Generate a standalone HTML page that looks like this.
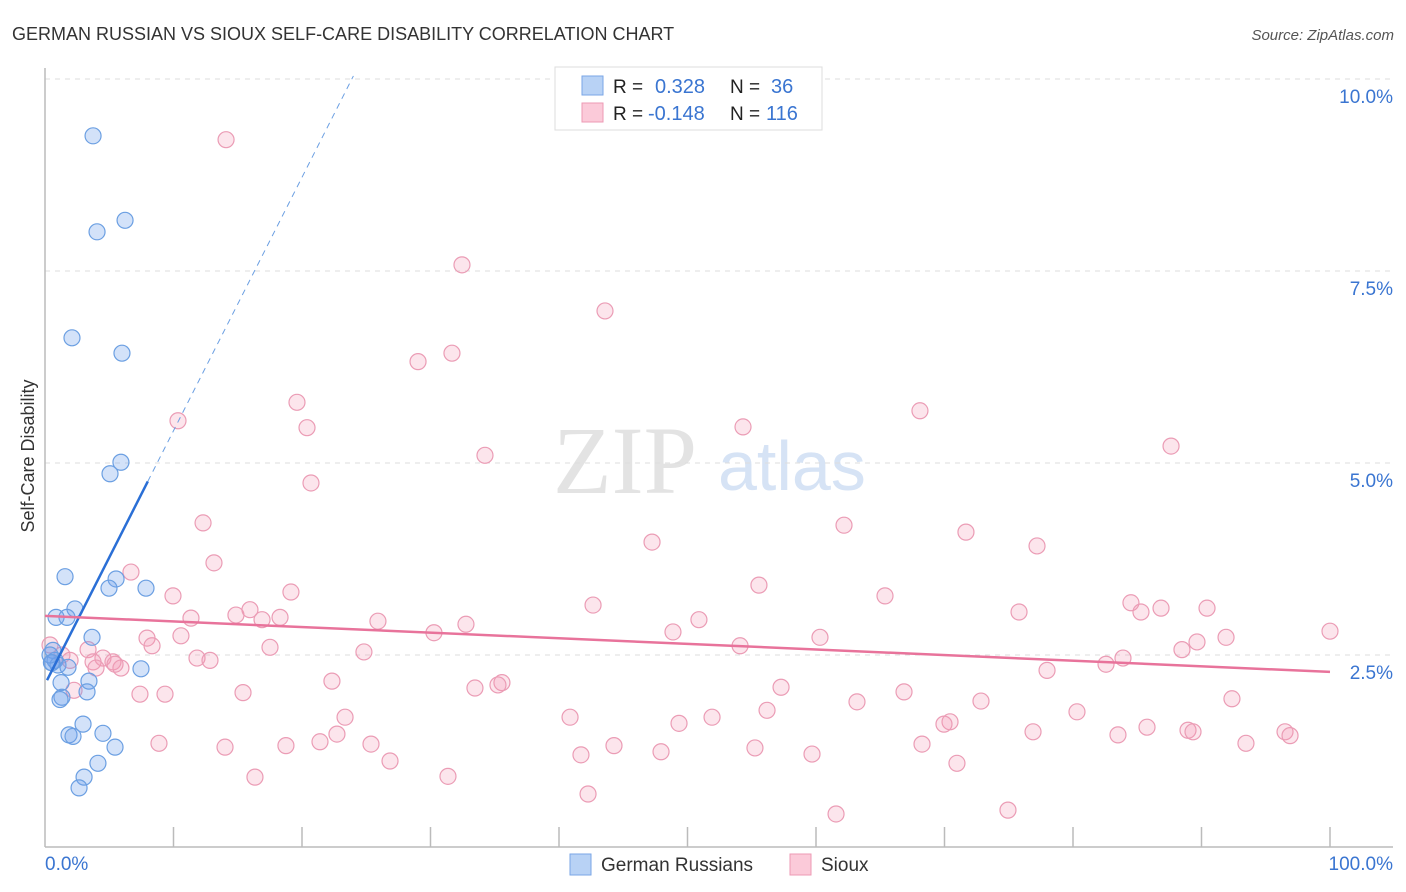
<!DOCTYPE html>
<html><head><meta charset="utf-8"><style>
body{margin:0;background:#fff;font-family:"Liberation Sans",sans-serif}
svg{display:block}
</style></head><body>
<svg id="c" width="1406" height="892" xmlns="http://www.w3.org/2000/svg">
<text x="12" y="40" font-size="18" fill="#333">GERMAN RUSSIAN VS SIOUX SELF-CARE DISABILITY CORRELATION CHART</text>
<text x="1394" y="40" font-size="15" fill="#555" font-style="italic" text-anchor="end">Source: ZipAtlas.com</text>
<g>
<text x="553" y="493" font-size="96" font-family="Liberation Serif,serif" fill="#e3e3e3">ZIP</text>
<text x="718" y="490" font-size="70" fill="#d6e3f5">atlas</text>
</g>
<g id="grid"></g>
<g id="axes"></g>
<g id="pts"></g>
<g id="trend"></g>
<g>
<rect x="555" y="67" width="267" height="63" fill="#fff" stroke="#ddd"/>
<rect x="582" y="76" width="21" height="19" fill="#b8d2f5" stroke="#7aa6e6"/>
<rect x="582" y="103" width="21" height="19" fill="#fbcad9" stroke="#ec9ab4"/>
<text x="613" y="93" font-size="19" fill="#222">R = </text><text x="655" y="93" font-size="20" fill="#3a75d1">0.328</text>
<text x="730" y="93" font-size="19" fill="#222">N = </text><text x="771" y="93" font-size="20" fill="#3a75d1">36</text>
<text x="613" y="120" font-size="19" fill="#222">R = </text><text x="648" y="120" font-size="20" fill="#3a75d1">-0.148</text>
<text x="730" y="120" font-size="19" fill="#222">N = </text><text x="766" y="120" font-size="20" fill="#3a75d1">116</text>
</g>
<g>
<rect x="570" y="854" width="21" height="21" fill="#b8d2f5" stroke="#7aa6e6"/>
<text x="601" y="871" font-size="19" fill="#333">German Russians</text>
<rect x="790" y="854" width="21" height="21" fill="#fbcad9" stroke="#ec9ab4"/>
<text x="821" y="871" font-size="19" fill="#333">Sioux</text>
</g>
</svg>
<script>
const blueX=[3.74,4.05,6.23,2.10,5.99,5.91,5.06,1.56,5.53,4.98,7.86,2.33,0.86,1.71,3.66,0.62,0.78,1.01,1.79,7.47,3.42,1.25,1.32,0.5,3.27,2.96,1.87,2.18,4.51,5.45,4.12,3.04,2.65,0.39,1.17,0.54];
const blueY=[9.26,8.01,8.16,6.63,6.43,5.01,4.86,3.52,3.49,3.37,3.37,3.10,2.99,2.99,2.73,2.56,2.43,2.37,2.34,2.32,2.16,2.14,1.95,2.40,2.02,1.60,1.46,1.44,1.48,1.30,1.09,0.91,0.77,2.50,1.92,2.40];
const pinkX=[14.09,32.45,43.58,29.03,31.67,19.61,20.39,10.35,34.24,54.32,68.09,87.63,20.70,12.30,13.15,47.24,62.18,71.67,77.20,6.69,9.96,19.14,55.56,42.65,84.51,86.85,90.43,75.80,85.29,11.36,14.86,15.95,16.89,18.29,25.91,32.76,50.89,65.37,7.94,10.58,30.27,48.87,60.31,91.91,100.0,8.33,17.51,54.09,89.65,88.48,24.82,3.35,4.51,5.29,3.74,5.91,11.83,12.84,83.89,82.57,77.98,22.33,33.46,35.56,35.25,57.28,66.85,7.39,9.34,15.41,63.19,72.84,92.37,56.19,23.35,40.86,51.91,80.31,49.34,70.43,69.96,76.89,83.50,85.76,88.95,89.34,96.50,96.89,8.87,14.01,18.75,21.40,22.72,25.37,44.28,68.25,93.46,41.71,47.94,55.25,59.69,26.85,70.97,16.34,31.36,42.26,61.56,74.94,2.26,0.39,1.32,1.95,5.45,3.97];
const pinkY=[9.21,7.58,6.98,6.32,6.43,5.79,5.46,5.55,5.10,5.47,5.68,5.22,4.74,4.22,3.70,3.97,4.19,4.10,3.92,3.58,3.27,3.32,3.41,3.15,3.18,3.11,3.11,3.06,3.06,2.98,3.02,3.09,2.96,2.99,2.94,2.90,2.96,3.27,2.72,2.75,2.79,2.80,2.73,2.73,2.81,2.62,2.60,2.62,2.67,2.57,2.54,2.57,2.46,2.41,2.41,2.33,2.46,2.43,2.46,2.38,2.30,2.16,2.07,2.14,2.11,2.08,2.02,1.99,1.99,2.01,1.89,1.90,1.93,1.78,1.69,1.69,1.69,1.76,1.61,1.63,1.60,1.50,1.46,1.56,1.52,1.50,1.50,1.45,1.35,1.30,1.32,1.37,1.47,1.34,1.32,1.34,1.35,1.20,1.24,1.29,1.21,1.12,1.09,0.91,0.92,0.69,0.43,0.48,2.04,2.63,2.50,2.43,2.38,2.33];
const blueTrend=[2.12,0.33];
const pinkTrend=[3.01,-0.0073];
const yTicks=[2.5,5.0,7.5,10.0];
const yTickLabels=["2.5%","5.0%","7.5%","10.0%"];
const xTickVals=[10,20,30,40,50,60,70,80,90,100];
const NS="http://www.w3.org/2000/svg";
const X=v=>45+v*12.85, Y=v=>847-v*76.8;
function mk(tag,attrs,parent){const e=document.createElementNS(NS,tag);for(const k in attrs)e.setAttribute(k,attrs[k]);parent.appendChild(e);return e;}
const grid=document.getElementById('grid'),axes=document.getElementById('axes'),pts=document.getElementById('pts'),tr=document.getElementById('trend');
yTicks.forEach((t,i)=>{
 const l=mk('line',{x1:45,x2:1393,y1:Y(t),y2:Y(t),stroke:'#ddd','stroke-dasharray':'5,5'},grid);
 
 
 const tx=mk('text',{x:1393,y:Y(t)+24,'font-size':19,fill:'#3a75d1','text-anchor':'end'},axes);
 tx.textContent=yTickLabels[i];
 
 
});
const ya=mk('line',{x1:45,x2:45,y1:68,y2:847,stroke:'#bbb','stroke-width':1.5},axes);


const xa=mk('line',{x1:45,x2:1393,y1:847,y2:847,stroke:'#bbb','stroke-width':1.5},axes);


xTickVals.forEach(v=>{
 const t=mk('line',{x1:X(v),x2:X(v),y1:827,y2:847,stroke:'#bbb','stroke-width':1.5},axes);
 
 
});
const x0=mk('text',{x:45,y:870,'font-size':19,fill:'#3a75d1'},axes);x0.textContent='0.0%';


const x1=mk('text',{x:1393,y:870,'font-size':19,fill:'#3a75d1','text-anchor':'end'},axes);x1.textContent='100.0%';


const yt=mk('text',{x:34,y:456,'font-size':18,fill:'#333','text-anchor':'middle',transform:'rotate(-90 34 456)'},axes);yt.textContent='Self-Care Disability';


pinkX.forEach((v,i)=>{
 const c=mk('circle',{cx:X(v),cy:Y(pinkY[i]),r:8,fill:'rgba(245,150,180,0.25)',stroke:'#eb9cb5','stroke-width':1.2},pts);
 
 
});
blueX.forEach((v,i)=>{
 const c=mk('circle',{cx:X(v),cy:Y(blueY[i]),r:8,fill:'rgba(110,160,235,0.3)',stroke:'#6b9fe2','stroke-width':1.2},pts);
 
 
});
const bs=mk('line',{x1:X(0.16),y1:Y(blueTrend[0]+blueTrend[1]*0.16),x2:X(8),y2:Y(blueTrend[0]+blueTrend[1]*8),stroke:'#2a6fd6','stroke-width':2.5},tr);


const bd=mk('line',{x1:X(8),y1:Y(blueTrend[0]+blueTrend[1]*8),x2:X(24),y2:Y(blueTrend[0]+blueTrend[1]*24),stroke:'#6b9fe2','stroke-width':1,'stroke-dasharray':'6,5'},tr);


const ps=mk('line',{x1:X(0),y1:Y(pinkTrend[0]),x2:X(100),y2:Y(pinkTrend[0]+pinkTrend[1]*100),stroke:'#e8739b','stroke-width':2.5},tr);


</script>
</body></html>
